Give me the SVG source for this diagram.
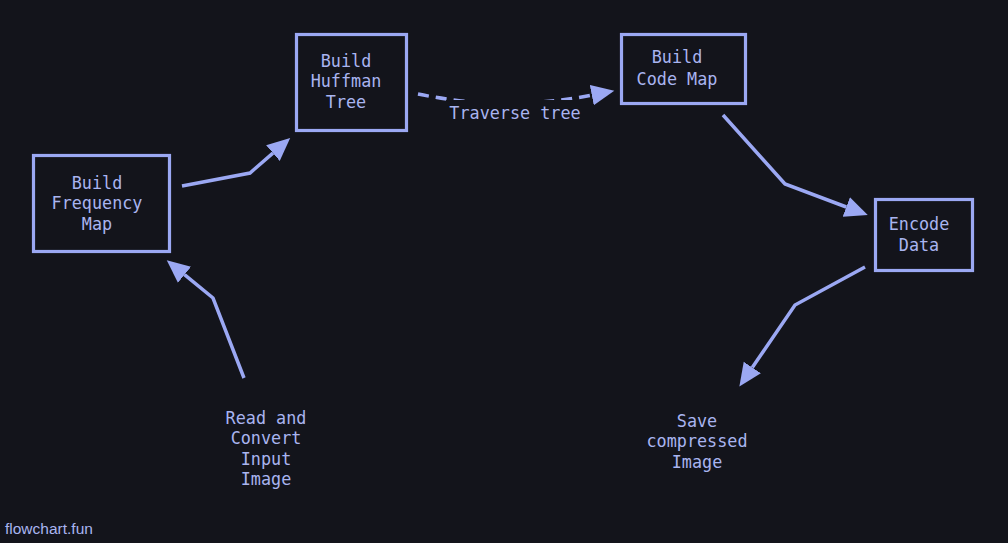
<svg xmlns="http://www.w3.org/2000/svg" width="1008" height="543" viewBox="0 0 1008 543">
<style>
.box{fill:#13141b;stroke:#9ba8f3;stroke-width:3.2}
.lbl{font-family:"DejaVu Sans Mono","Liberation Mono",monospace;font-size:16.8px;fill:#a9b4f0;text-anchor:middle}
.edge{fill:none;stroke:#9ba8f3;stroke-width:3.5}
.dash{stroke-dasharray:11 7}
.wm{font-family:"Liberation Sans",Arial,sans-serif;font-size:15.5px;fill:#a9b4f0}
</style>
<defs>
<marker id="ah" markerUnits="userSpaceOnUse" markerWidth="24" markerHeight="24" viewBox="0 -10 22 20" refX="0" refY="0" orient="auto">
<path d="M0,-9.5 L21,0 L0,9.5 z" fill="#9ba8f3"/>
</marker>
</defs>
<rect width="1008" height="543" fill="#13141b"/>
<g id="connectors">
<polyline class="edge" points="182,186 250,173 272.9,153.1" marker-end="url(#ah)"/>
<polyline class="edge" points="244,378 213,298 184.5,274.7" marker-end="url(#ah)"/>
<path class="edge dash" d="M418,94 Q505,112 591.8,95.2" marker-end="url(#ah)"/>
<rect x="446" y="100" width="140" height="25" fill="#13141b"/>
<text class="lbl" x="515" y="119">Traverse tree</text>
<polyline class="edge" points="723,115 785,184 846.3,207" marker-end="url(#ah)"/>
<polyline class="edge" points="865,267 795,305 752.3,367.5" marker-end="url(#ah)"/>
</g>
<g id="n-freq">
<rect class="box" x="33.5" y="155.5" width="136" height="96"/>
<text class="lbl" x="97" y="188.5">Build</text>
<text class="lbl" x="97" y="209">Frequency</text>
<text class="lbl" x="97" y="229.5">Map</text>
</g>
<g id="n-huff">
<rect class="box" x="296.5" y="34.5" width="110" height="96"/>
<text class="lbl" x="346" y="66.5">Build</text>
<text class="lbl" x="346" y="87">Huffman</text>
<text class="lbl" x="346" y="107.5">Tree</text>
</g>
<g id="n-code">
<rect class="box" x="621.5" y="34.5" width="124" height="69"/>
<text class="lbl" x="677" y="63">Build</text>
<text class="lbl" x="677" y="84.5">Code Map</text>
</g>
<g id="n-enc">
<rect class="box" x="875.5" y="199.5" width="97" height="71"/>
<text class="lbl" x="919" y="229.5">Encode</text>
<text class="lbl" x="919" y="250.5">Data</text>
</g>
<g id="n-read">
<text class="lbl" x="266" y="423.5">Read and</text>
<text class="lbl" x="266" y="444">Convert</text>
<text class="lbl" x="266" y="464.5">Input</text>
<text class="lbl" x="266" y="485">Image</text>
</g>
<g id="n-save">
<text class="lbl" x="697" y="426.5">Save</text>
<text class="lbl" x="697" y="447">compressed</text>
<text class="lbl" x="697" y="467.5">Image</text>
</g>
<text class="wm" x="5" y="534">flowchart.fun</text>
</svg>
